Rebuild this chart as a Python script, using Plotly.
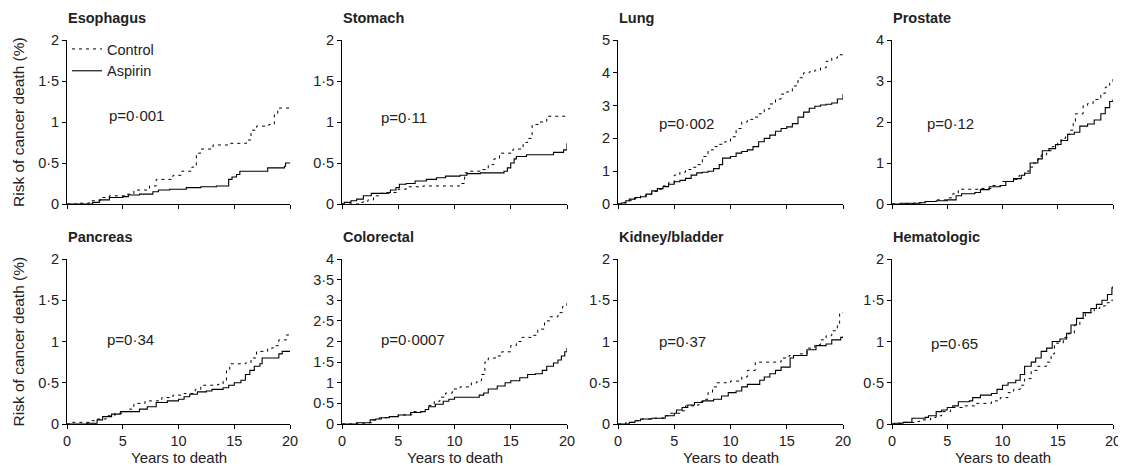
import plotly.graph_objects as go

# ---------------- data ----------------
panel_names = ["Esophagus", "Stomach", "Lung", "Prostate",
               "Pancreas", "Colorectal", "Kidney/bladder", "Hematologic"]
p_values = ["p=0·001", "p=0·11", "p=0·002", "p=0·12",
            "p=0·34", "p=0·0007", "p=0·37", "p=0·65"]
y_max = [2, 2, 5, 4, 2, 4, 2, 2]
y_step = [0.5, 0.5, 1, 1, 0.5, 0.5, 0.5, 0.5]
x_ticks = [0, 5, 10, 15, 20]
x_title = "Years to death"
y_title = "Risk of cancer death (%)"

esophagus_control_t = [0, 1, 2, 3, 3.8, 5.3, 6, 7.4, 8, 9.5, 10.3, 11.2, 11.6, 12, 13.1, 14.6, 16.1, 16.5, 17, 18.1, 18.6, 18.9, 20]
esophagus_control_y = [0, 0.01, 0.04, 0.08, 0.1, 0.12, 0.17, 0.22, 0.3, 0.35, 0.4, 0.45, 0.62, 0.67, 0.72, 0.74, 0.78, 0.9, 0.95, 0.97, 1.1, 1.17, 1.17]
esophagus_aspirin_t = [0, 2.3, 2.9, 3.8, 5, 5.5, 6.5, 7.7, 8.2, 9.2, 10.7, 12, 13.4, 14.5, 14.8, 15.2, 15.5, 18, 19.5, 19.6, 20]
esophagus_aspirin_y = [0, 0.02, 0.05, 0.08, 0.09, 0.11, 0.12, 0.15, 0.17, 0.18, 0.2, 0.21, 0.22, 0.3, 0.33, 0.36, 0.4, 0.44, 0.46, 0.5, 0.5]

stomach_control_t = [0, 1.6, 1.9, 2.3, 2.8, 3.4, 4.2, 5, 5.7, 7.2, 10.6, 10.9, 11.4, 12.3, 13, 13.5, 14, 15.2, 16.1, 16.5, 16.9, 17.6, 18.2, 20]
stomach_control_y = [0, 0.02, 0.03, 0.05, 0.1, 0.13, 0.14, 0.18, 0.21, 0.22, 0.25, 0.38, 0.4, 0.42, 0.48, 0.55, 0.62, 0.67, 0.75, 0.8, 0.97, 1.0, 1.07, 1.07]
stomach_aspirin_t = [0, 0.2, 0.8, 1.3, 1.9, 2.6, 4, 4.3, 4.8, 5.1, 5.7, 6.5, 7.5, 8.4, 9.2, 10.5, 11.1, 12.3, 14.4, 14.7, 15, 15.3, 15.5, 16.4, 18.8, 19.7, 20]
stomach_aspirin_y = [0, 0.02, 0.04, 0.06, 0.1, 0.13, 0.14, 0.17, 0.2, 0.24, 0.25, 0.28, 0.3, 0.32, 0.34, 0.35, 0.37, 0.38, 0.4, 0.44, 0.5, 0.55, 0.58, 0.6, 0.63, 0.66, 0.74]

lung_control_t = [0, 0.5, 1, 1.5, 2, 2.5, 3, 3.5, 4, 4.5, 5, 5.5, 6, 6.5, 7, 7.5, 8, 8.5, 9, 9.5, 10, 10.5, 11, 11.5, 12, 12.5, 13, 13.5, 14, 14.5, 15, 15.5, 16, 16.5, 17, 17.5, 18, 18.5, 19, 19.5, 20]
lung_control_y = [0, 0.05, 0.1, 0.17, 0.25, 0.3, 0.38, 0.45, 0.55, 0.65, 0.88, 0.97, 1.05, 1.12, 1.2, 1.45, 1.65, 1.75, 1.82, 1.9, 2.05, 2.3, 2.5, 2.58, 2.65, 2.75, 2.9, 3.05, 3.2, 3.35, 3.42, 3.6, 3.85, 4.0, 4.03, 4.08, 4.15, 4.35, 4.45, 4.55, 4.57]
lung_aspirin_t = [0, 0.3, 0.7, 1, 1.5, 2, 2.5, 3, 3.5, 4, 4.5, 5, 5.5, 6, 6.5, 7, 7.5, 8, 8.5, 9, 9.3, 10, 10.5, 11, 11.5, 12, 12.5, 13, 13.5, 14, 14.5, 15, 15.5, 16, 16.5, 17, 17.5, 18, 18.5, 19, 19.5, 20]
lung_aspirin_y = [0, 0.03, 0.1, 0.15, 0.2, 0.22, 0.3, 0.4, 0.47, 0.53, 0.6, 0.68, 0.72, 0.78, 0.88, 0.95, 0.97, 1.0, 1.08, 1.2, 1.4, 1.45, 1.55, 1.6, 1.65, 1.75, 1.9, 2.0, 2.1, 2.22, 2.3, 2.35, 2.45, 2.65, 2.8, 2.92, 2.98, 3.02, 3.04, 3.08, 3.2, 3.35]

prostate_control_t = [0, 1, 2, 3, 4, 5, 5.5, 6, 8, 9, 10, 11, 11.5, 12, 12.4, 12.8, 13.2, 13.5, 14, 14.5, 15, 15.3, 15.7, 16.1, 16.4, 16.6, 17.3, 17.7, 18.2, 18.9, 19.3, 19.7, 20]
prostate_control_y = [0, 0.01, 0.03, 0.06, 0.1, 0.15, 0.25, 0.36, 0.38, 0.45, 0.55, 0.6, 0.7, 0.8, 0.9, 1.0, 1.1, 1.2, 1.3, 1.4, 1.5, 1.6, 1.7, 1.8, 2.0, 2.2, 2.4, 2.45, 2.55, 2.7, 2.85, 2.95, 3.05]
prostate_aspirin_t = [0, 0.8, 2.5, 3, 4, 5, 5.8, 6.3, 7.5, 8, 8.8, 9.8, 10.3, 11, 11.7, 12, 12.5, 13.2, 13.6, 14.2, 14.8, 15.3, 15.9, 16.5, 17, 17.7, 18.3, 18.9, 19.3, 19.7, 20]
prostate_aspirin_y = [0, 0.02, 0.03, 0.06, 0.08, 0.1, 0.2, 0.25, 0.28, 0.35, 0.42, 0.45, 0.55, 0.62, 0.7, 0.75, 1.0, 1.1, 1.3, 1.35, 1.45, 1.55, 1.7, 1.75, 1.9, 1.95, 2.05, 2.2, 2.35, 2.5, 2.55]

pancreas_control_t = [0, 0.5, 2, 2.5, 3.5, 4.3, 5, 5.5, 6, 7, 8.5, 9.5, 10.5, 11.5, 12, 13.5, 14, 14.3, 14.6, 16, 16.5, 17, 18, 18.5, 19, 19.7, 20]
pancreas_control_y = [0, 0.02, 0.04, 0.06, 0.1, 0.13, 0.15, 0.18, 0.25, 0.28, 0.32, 0.35, 0.37, 0.42, 0.47, 0.48, 0.52, 0.65, 0.73, 0.74, 0.8, 0.88, 0.92, 0.95, 1.02, 1.08, 1.1]
pancreas_aspirin_t = [0, 1.8, 2.7, 3.2, 4, 4.8, 6.5, 7.2, 8, 9, 10, 10.5, 11, 11.7, 12.5, 13, 14, 14.5, 15, 15.6, 16, 16.4, 16.8, 17.3, 17.5, 19, 19.3, 20]
pancreas_aspirin_y = [0, 0.01, 0.05, 0.09, 0.12, 0.15, 0.18, 0.21, 0.26, 0.28, 0.3, 0.33, 0.36, 0.39, 0.4, 0.42, 0.44, 0.47, 0.5, 0.53, 0.6, 0.65, 0.7, 0.73, 0.8, 0.85, 0.88, 0.88]

colorectal_control_t = [0, 1.3, 2.3, 2.7, 3.3, 4, 5, 6.2, 7.2, 7.7, 8.2, 8.7, 9.2, 9.8, 10.5, 11.5, 12, 12.4, 12.7, 13, 13.7, 14.2, 15, 15.5, 16, 16.8, 17.4, 18, 18.5, 19.2, 19.6, 20]
colorectal_control_y = [0, 0.02, 0.03, 0.1, 0.15, 0.18, 0.22, 0.3, 0.35, 0.45, 0.55, 0.65, 0.75, 0.85, 0.9, 1.0, 1.05, 1.2, 1.5, 1.6, 1.65, 1.75, 1.9, 2.0, 2.1, 2.15, 2.3, 2.5, 2.6, 2.7, 2.85, 3.0]
colorectal_aspirin_t = [0, 1.3, 2.5, 3, 3.5, 4.2, 5, 6.1, 7, 7.4, 7.7, 8.3, 9, 9.5, 10, 12.2, 12.6, 13, 13.8, 14.5, 15, 15.8, 16.5, 17.2, 17.8, 18.2, 18.8, 19.2, 19.5, 19.8, 20]
colorectal_aspirin_y = [0, 0.03, 0.1, 0.12, 0.15, 0.18, 0.22, 0.28, 0.3, 0.35, 0.42, 0.48, 0.55, 0.6, 0.65, 0.7, 0.75, 0.85, 0.92, 1.0, 1.05, 1.12, 1.2, 1.22, 1.3, 1.4, 1.48, 1.55, 1.65, 1.75, 1.85]

kidney_control_t = [0, 0.7, 1.5, 2.1, 3, 4, 4.6, 5.5, 6, 6.8, 7.2, 7.6, 8, 8.4, 8.8, 10, 11, 11.5, 12.2, 14.5, 15.2, 16, 16.8, 17.5, 18, 18.5, 19, 19.5, 19.7, 20]
kidney_control_y = [0, 0.02, 0.04, 0.06, 0.07, 0.1, 0.13, 0.16, 0.22, 0.23, 0.27, 0.3, 0.38, 0.45, 0.5, 0.52, 0.57, 0.65, 0.75, 0.8, 0.83, 0.85, 0.92, 0.96, 1.02, 1.07, 1.13, 1.2, 1.35, 1.35]
kidney_aspirin_t = [0, 1, 1.5, 2, 3, 4.2, 5, 5.2, 5.7, 6.2, 6.8, 7.5, 8.5, 9.2, 9.8, 10.5, 11, 11.5, 12.6, 13, 13.5, 14, 14.5, 15.3, 15.6, 16.8, 17.6, 18.5, 19, 19.8, 20]
kidney_aspirin_y = [0, 0.02, 0.04, 0.06, 0.07, 0.1, 0.13, 0.17, 0.2, 0.23, 0.26, 0.28, 0.3, 0.34, 0.38, 0.4, 0.45, 0.48, 0.53, 0.57, 0.61, 0.65, 0.69, 0.8, 0.83, 0.9, 0.95, 0.97, 1.02, 1.05, 1.06]

hematologic_control_t = [0, 0.5, 1, 2, 2.5, 3.5, 4, 4.5, 5.3, 6.5, 7.5, 9, 9.8, 10.5, 11, 11.6, 12, 12.6, 13.2, 14, 14.4, 14.7, 15.5, 16, 16.5, 17, 17.5, 18.3, 18.8, 19.3, 19.7, 20]
hematologic_control_y = [0, 0.01, 0.02, 0.03, 0.05, 0.08, 0.1, 0.15, 0.2, 0.22, 0.25, 0.28, 0.32, 0.38, 0.42, 0.47, 0.55, 0.65, 0.7, 0.75, 0.85, 0.98, 1.05, 1.1, 1.2, 1.28, 1.35, 1.4, 1.43, 1.47, 1.5, 1.5]
hematologic_aspirin_t = [0, 0.2, 1, 1.8, 3, 3.3, 4, 4.5, 5, 5.5, 6, 7, 7.3, 8, 9, 9.5, 10, 10.5, 11.2, 11.6, 12, 12.6, 13, 13.5, 14, 14.5, 15.2, 15.8, 16.2, 16.7, 17.3, 18, 18.5, 19, 19.5, 19.9, 20]
hematologic_aspirin_y = [0, 0.01, 0.02, 0.07, 0.08, 0.1, 0.15, 0.17, 0.2, 0.22, 0.27, 0.28, 0.32, 0.35, 0.37, 0.42, 0.47, 0.5, 0.53, 0.6, 0.7, 0.75, 0.8, 0.88, 0.92, 1.0, 1.03, 1.1, 1.2, 1.28, 1.35, 1.4, 1.45, 1.5, 1.57, 1.65, 1.67]

control_series = [
    (esophagus_control_t, esophagus_control_y), (stomach_control_t, stomach_control_y),
    (lung_control_t, lung_control_y), (prostate_control_t, prostate_control_y),
    (pancreas_control_t, pancreas_control_y), (colorectal_control_t, colorectal_control_y),
    (kidney_control_t, kidney_control_y), (hematologic_control_t, hematologic_control_y)]
aspirin_series = [
    (esophagus_aspirin_t, esophagus_aspirin_y), (stomach_aspirin_t, stomach_aspirin_y),
    (lung_aspirin_t, lung_aspirin_y), (prostate_aspirin_t, prostate_aspirin_y),
    (pancreas_aspirin_t, pancreas_aspirin_y), (colorectal_aspirin_t, colorectal_aspirin_y),
    (kidney_aspirin_t, kidney_aspirin_y), (hematologic_aspirin_t, hematologic_aspirin_y)]

# ---------------- layout ----------------
# The page body has an 8px margin; every screen position below is shifted by it.
OFF = 8
W, H = 1126 - OFF, 476 - 2 * OFF
FONT = "Liberation Sans, Arial, sans-serif"
col_px = [(67, 290), (342, 567), (618, 843), (892, 1113)]
row_px = [(40, 204), (259, 424)]
p_pos = [(0.18, 0.54), (0.165, 0.53), (0.173, 0.49), (0.15, 0.49),
         (0.17, 0.51), (0.165, 0.515), (0.173, 0.50), (0.167, 0.49)]
TXT = "#222"

def px_x(x):
    return (x - OFF) / W

def px_y(y):
    return 1 - (y - OFF) / H

def fmt(v):
    return ("%g" % v).replace(".", "·")

fig = go.Figure()
layout = dict(
    template="none",
    width=W, height=H, margin=dict(l=0, r=0, t=0, b=0, autoexpand=False),
    paper_bgcolor="white", plot_bgcolor="white",
    font=dict(family=FONT, size=14, color=TXT),
    showlegend=True,
    legend=dict(x=px_x(67), y=px_y(33), xanchor="left", yanchor="top",
                bgcolor="rgba(0,0,0,0)", borderwidth=0,
                font=dict(size=14.5, color=TXT),
                tracegroupgap=0, itemwidth=30),
)
annotations = []

for i, name in enumerate(panel_names):
    r, c = divmod(i, 4)
    k = "" if i == 0 else str(i + 1)
    xa, ya = "x" + k, "y" + k
    x0, x1 = col_px[c]
    yt, yb = row_px[r]
    yvals = []
    v = 0.0
    while v <= y_max[i] + 1e-9:
        yvals.append(round(v, 3))
        v += y_step[i]
    layout["xaxis" + k] = dict(
        domain=[px_x(x0), px_x(x1)], anchor=ya, range=[0, 20],
        tickvals=x_ticks, showticklabels=(r == 1), automargin=False,
        ticklabeloverflow="allow",
        showline=True, linecolor="black", linewidth=1,
        ticks="outside", ticklen=4, tickcolor="black", tickwidth=1,
        showgrid=False, zeroline=False, fixedrange=True,
        tickfont=dict(size=14.5, color=TXT),
    )
    layout["yaxis" + k] = dict(
        domain=[px_y(yb), px_y(yt)], anchor=xa, range=[0, y_max[i]],
        tickvals=yvals, ticktext=[fmt(v) for v in yvals], automargin=False,
        showline=True, linecolor="black", linewidth=1,
        ticks="outside", ticklen=4, tickcolor="black", tickwidth=1,
        showgrid=False, zeroline=False, fixedrange=True,
        tickfont=dict(size=14.5, color=TXT),
    )
    ct, cy = control_series[i]
    at, ay = aspirin_series[i]
    fig.add_trace(go.Scatter(x=ct, y=cy, mode="lines", line_shape="hv",
                             line=dict(color="black", width=1, dash="3px,4px"),
                             name="Control", showlegend=(i == 0),
                             xaxis=xa, yaxis=ya))
    fig.add_trace(go.Scatter(x=at, y=ay, mode="lines", line_shape="hv",
                             line=dict(color="black", width=1.1),
                             name="Aspirin", showlegend=(i == 0),
                             xaxis=xa, yaxis=ya))
    annotations.append(dict(text="<b>%s</b>" % name, xref="paper", yref="paper",
                            x=px_x(x0 - 1), y=px_y(yt - 22), xanchor="left",
                            yanchor="middle", showarrow=False,
                            font=dict(size=14.5, color=TXT)))
    px, py = p_pos[i]
    annotations.append(dict(text=p_values[i], xref=xa + " domain", yref=ya + " domain",
                            x=px, y=py, xanchor="left", yanchor="middle",
                            showarrow=False, font=dict(size=15, color=TXT)))
    if r == 1:
        annotations.append(dict(text=x_title, xref=xa + " domain", yref="paper",
                                x=0.5, y=px_y(468), xanchor="center", yanchor="bottom",
                                showarrow=False, font=dict(size=15, color=TXT)))

for r in range(2):
    yt, yb = row_px[r]
    annotations.append(dict(text=y_title, xref="paper", yref="paper",
                            x=px_x(18), y=px_y((yt + yb) / 2), textangle=-90,
                            xanchor="center", yanchor="middle", showarrow=False,
                            font=dict(size=15.5, color=TXT)))

layout["annotations"] = annotations
fig.update_layout(**layout)
fig.write_html("out.html")
